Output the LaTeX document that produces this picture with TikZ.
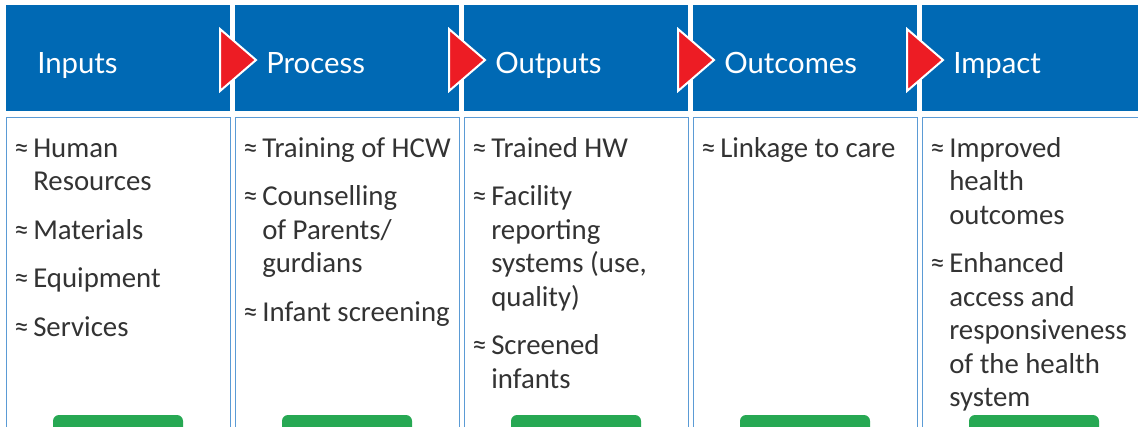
\documentclass[tikz,border=0pt]{standalone}
\usepackage{fontspec}
\setmainfont{Carlito}
\newfontfamily\headfont{Lato}
\definecolor{hblue}{HTML}{0069B4}
\definecolor{bline}{HTML}{5B9BD5}
\definecolor{tred}{HTML}{ED1C24}
\definecolor{bgreen}{HTML}{27A853}
\definecolor{txt}{HTML}{333333}
\tikzset{
  hdrtext/.style={anchor=base west, inner sep=0, text=white, font=\headfont\fontsize{22}{26}\selectfont},
  bodytext/.style={anchor=base west, inner sep=0, text=txt, font=\fontsize{21.6}{25}\selectfont},
  bulletmark/.style={anchor=base west, inner sep=0, text=txt, font=\fontsize{21.6}{25}\selectfont},
  colbox/.style={draw=bline, line width=1.1pt},
  arrowtri/.style={fill=tred, draw=white, line width=1.5pt, line join=miter},
  btn/.style={fill=bgreen, rounded corners=4.5pt}
}
\begin{document}
\begin{tikzpicture}[x=0.75pt,y=-0.75pt]
\useasboundingbox (0,0) rectangle (1138,426);
\clip (0,0) rectangle (1138,426);
\fill[white] (0,0) rectangle (1138,426);
% headers and body boxes
\foreach \i/\t in {0/Inputs,1/Process,2/Outputs,3/Outcomes,4/Impact}{
  \pgfmathsetmacro\xa{6+229*\i}
  \fill[hblue] (\xa,5) rectangle ++(224,106);
  \draw[colbox] (\xa+0.5,450) -- (\xa+0.5,117.5) -- (\xa+224.5,117.5) -- (\xa+224.5,450);
  \fill[btn] (\xa+47,415) rectangle ++(130,30);
  \node[hdrtext] (h\i) at (\xa+31,73) {\t};
}
% triangles between headers
\foreach \i in {1,2,3,4}{
  \pgfmathsetmacro\xb{6+229*\i}
  \draw[arrowtri] (\xb-15,29) -- (\xb-15,91) -- (\xb+21,60) -- cycle;
}
% Column 0: Inputs
\node[bulletmark] (b00) at (14,157) {≈};
\node[bodytext] (t00a) at (33,157) {Human};
\node[bodytext] (t00b) at (33,190.5) {Resources};
\node[bulletmark] (b01) at (14,239) {≈};
\node[bodytext] (t01) at (33,239) {Materials};
\node[bulletmark] (b02) at (14,287.5) {≈};
\node[bodytext] (t02) at (33,287.5) {Equipment};
\node[bulletmark] (b03) at (14,336) {≈};
\node[bodytext] (t03) at (33,336) {Services};
% Column 1: Process
\node[bulletmark] (b10) at (243,157) {≈};
\node[bodytext] (t10) at (262,157) {Training of HCW};
\node[bulletmark] (b11) at (243,205.5) {≈};
\node[bodytext] (t11a) at (262,205.5) {Counselling};
\node[bodytext] (t11b) at (262,239) {of Parents/};
\node[bodytext] (t11c) at (262,272.5) {gurdians};
\node[bulletmark] (b12) at (243,321) {≈};
\node[bodytext] (t12) at (262,321) {Infant screening};
% Column 2: Outputs
\node[bulletmark] (b20) at (472,157) {≈};
\node[bodytext] (t20) at (491,157) {Trained HW};
\node[bulletmark] (b21) at (472,205.5) {≈};
\node[bodytext] (t21a) at (491,205.5) {Facility};
\node[bodytext] (t21b) at (491,239) {reporting};
\node[bodytext] (t21c) at (491,272.5) {systems (use,};
\node[bodytext] (t21d) at (491,306) {quality)};
\node[bulletmark] (b22) at (472,354.5) {≈};
\node[bodytext] (t22a) at (491,354.5) {Screened};
\node[bodytext] (t22b) at (491,388) {infants};
% Column 3: Outcomes
\node[bulletmark] (b30) at (701,157) {≈};
\node[bodytext] (t30) at (720,157) {Linkage to care};
% Column 4: Impact
\node[bulletmark] (b40) at (930,157) {≈};
\node[bodytext] (t40a) at (949,157) {Improved};
\node[bodytext] (t40b) at (949,190.5) {health};
\node[bodytext] (t40c) at (949,224) {outcomes};
\node[bulletmark] (b41) at (930,272.5) {≈};
\node[bodytext] (t41a) at (949,272.5) {Enhanced};
\node[bodytext] (t41b) at (949,306) {access and};
\node[bodytext] (t41c) at (949,339.5) {responsiveness};
\node[bodytext] (t41d) at (949,373) {of the health};
\node[bodytext] (t41e) at (949,406.5) {system};
\end{tikzpicture}
\end{document}
